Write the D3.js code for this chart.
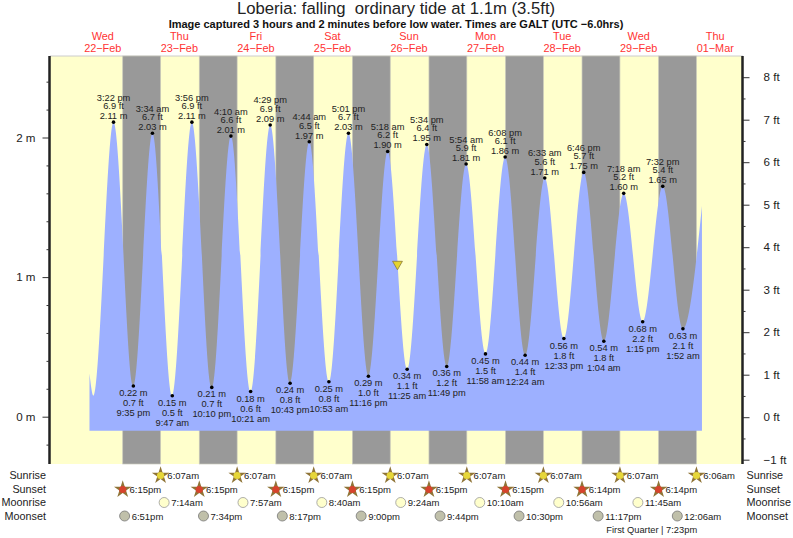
<!DOCTYPE html>
<html><head><meta charset="utf-8">
<script src="https://cdn.jsdelivr.net/npm/d3@7"></script>
<style>html,body{margin:0;background:#fff}svg{display:block}text{font-family:"Liberation Sans",Arial,sans-serif;fill:#222;white-space:pre}</style>
</head><body><svg id="c" width="793" height="538"></svg>
<script>
const titleText = "Loberia: falling  ordinary tide at 1.1m (3.5ft)";
const subtitleText = "Image captured 3 hours and 2 minutes before low water. Times are GALT (UTC \u22126.0hrs)";
const dayNames = ["Wed","Thu","Fri","Sat","Sun","Mon","Tue","Wed","Thu"];
const dayDates = ["22\u2212Feb","23\u2212Feb","24\u2212Feb","25\u2212Feb","26\u2212Feb","27\u2212Feb","28\u2212Feb","29\u2212Feb","01\u2212Mar"];
const dayNoons = ["02-22 12:00","02-23 12:00","02-24 12:00","02-25 12:00","02-26 12:00","02-27 12:00","02-28 12:00","02-29 12:00","03-01 12:00"];
const tideTimes = ["02-22 15:22","02-22 21:35","02-23 03:34","02-23 09:47","02-23 15:56","02-23 22:10","02-24 04:10","02-24 10:21","02-24 16:29","02-24 22:43","02-25 04:44","02-25 10:53","02-25 17:01","02-25 23:16","02-26 05:18","02-26 11:25","02-26 17:34","02-26 23:49","02-27 05:54","02-27 11:58","02-27 18:08","02-28 00:24","02-28 06:33","02-28 12:33","02-28 18:46","02-29 01:04","02-29 07:18","02-29 13:15","02-29 19:32","03-01 01:52"];
const tideMeters = [2.11,0.22,2.03,0.15,2.11,0.21,2.01,0.18,2.09,0.24,1.97,0.25,2.03,0.29,1.90,0.34,1.95,0.36,1.81,0.45,1.86,0.44,1.71,0.56,1.75,0.54,1.60,0.68,1.65,0.63];
const tideFeet = [6.9,0.7,6.7,0.5,6.9,0.7,6.6,0.6,6.9,0.8,6.5,0.8,6.7,1.0,6.2,1.1,6.4,1.2,5.9,1.5,6.1,1.4,5.6,1.8,5.7,1.8,5.2,2.2,5.4,2.1];
const leadTimes = ["02-22 07:50","02-22 09:05"];
const leadMeters = [0.31,0.15];
const tailTimes = ["03-01 07:50"];
const tailMeters = [1.51];
const sunriseTimes = ["02-23 06:07","02-24 06:07","02-25 06:07","02-26 06:07","02-27 06:07","02-28 06:07","02-29 06:07","03-01 06:06"];
const sunsetTimes = ["02-22 18:15","02-23 18:15","02-24 18:15","02-25 18:15","02-26 18:15","02-27 18:15","02-28 18:14","02-29 18:14"];
const moonriseTimes = ["02-23 07:14","02-24 07:57","02-25 08:40","02-26 09:24","02-27 10:10","02-28 10:56","02-29 11:45"];
const moonsetTimes = ["02-22 18:51","02-23 19:34","02-24 20:17","02-25 21:00","02-26 21:44","02-27 22:30","02-28 23:17","03-01 00:06"];
const meterMajor = [0,1,2];
const meterMinor = [-0.2,0.2,0.4,0.6,0.8,1.2,1.4,1.6,1.8,2.2,2.4];
const feetMajor = [-1,0,1,2,3,4,5,6,7,8];
const feetMinor = [-0.5,0.5,1.5,2.5,3.5,4.5,5.5,6.5,7.5];
const nowTime = "02-26 08:23";
const nowLevel = 1.1;
const phaseText = "First Quarter | 7:23pm";
const phaseTime = "02-29 19:23";

const T = d3.utcParse("%Y-%m-%d %H:%M");
const t = s => T("2012-" + s);
const pL = 50, pR = 743, pT = 56, pB = 464;
const x = d3.scaleUtc().domain([t("02-22 00:00"), t("03-01 00:00")]).range([64.5, 64.5 + 3.19 * 192]);
const y = d3.scaleLinear().domain([0, 2]).range([416.7, 137.5]);
const yFt = d3.scaleLinear().domain([0, 8]).range([417.2, 77.2]);
const svg = d3.select("#c");
const fmtT = d3.utcFormat("%-I:%M %p");
const fmtC = d3.utcFormat("%-I:%M%p");
const low = s => s.toLowerCase();

svg.append("text").attr("x", 396).attr("y", 14).attr("text-anchor", "middle").attr("font-size", 16.7).text(titleText);
svg.append("text").attr("x", 396).attr("y", 28).attr("text-anchor", "middle").attr("font-size", 11).attr("font-weight", "bold").style("fill", "#111").text(subtitleText);
const dg = svg.append("g").attr("text-anchor", "middle").attr("font-size", 10.9);
dg.selectAll(".n").data(dayNames).join("text").attr("class", "n").attr("x", (d, i) => x(t(dayNoons[i]))).attr("y", 40).style("fill", "#f33").text(d => d);
dg.selectAll(".d").data(dayDates).join("text").attr("class", "d").attr("x", (d, i) => x(t(dayNoons[i]))).attr("y", 52).style("fill", "#f33").text(d => d);

svg.append("rect").attr("x", pL).attr("y", pT).attr("width", pR - pL).attr("height", pB - pT).attr("fill", "#ffffcc");
svg.append("line").attr("x1", pL).attr("x2", pR).attr("y1", pT).attr("y2", pT).attr("stroke", "#ccc").attr("stroke-width", 1);
svg.selectAll(".night").data(sunsetTimes).join("rect").attr("class", "night")
  .attr("x", d => x(t(d))).attr("y", pT).attr("width", (d, i) => x(t(sunriseTimes[i])) - x(t(d)))
  .attr("height", pB - pT).attr("fill", "#999").attr("stroke", "#c9c9bb").attr("stroke-width", 0.7);

const pts = [...leadTimes.map((d, i) => [t(d), leadMeters[i]]),
  ...tideTimes.map((d, i) => [t(d), tideMeters[i]]),
  ...tailTimes.map((d, i) => [t(d), tailMeters[i]])];
const tideArea = d3.area().x(d => x(d[0])).y0(y(-0.1)).y1(d => y(d[1])).curve(d3.curveMonotoneX);
svg.append("path").datum(pts).attr("d", tideArea).attr("fill", "#9db0ff");

svg.selectAll(".dot").data(tideTimes).join("circle").attr("class", "dot")
  .attr("cx", d => x(t(d))).attr("cy", (d, i) => y(tideMeters[i])).attr("r", 1.8).attr("fill", "#000");

const lab = svg.append("g").attr("text-anchor", "middle").attr("font-size", 9.3);
tideTimes.forEach((d, i) => {
  const px = x(t(d)), py = y(tideMeters[i]), hi = i % 2 === 0;
  const off = hi ? [-3, -13, -21.5] : [10, 20, 30];
  const s = [tideMeters[i].toFixed(2) + " m", tideFeet[i].toFixed(1) + " ft", low(fmtT(t(d)))];
  s.forEach((v, k) => lab.append("text").attr("x", px).attr("y", py + off[k]).text(v));
});

const tri = d3.symbol().type(d3.symbolTriangle).size(42);
svg.append("path").attr("d", tri()).attr("transform", `translate(${x(t(nowTime))},${y(nowLevel) + 1}) rotate(180)`)
  .attr("fill", "#e5d42e").attr("stroke", "#8a7a3a").attr("stroke-width", 0.8);

const aL = d3.axisLeft(y).tickValues(meterMajor).tickSize(7).tickPadding(7).tickFormat(d => d + " m");
const gL = svg.append("g").attr("transform", `translate(${pL - 0.5},0)`).call(aL);
const aLm = d3.axisLeft(y).tickValues(meterMinor).tickSize(3).tickFormat("");
const gLm = svg.append("g").attr("transform", `translate(${pL - 0.5},0)`).call(aLm);
const aR = d3.axisRight(yFt).tickValues(feetMajor).tickSize(7).tickPadding(14).tickFormat(d => (d < 0 ? "\u2212" + (-d) : d) + " ft");
const gR = svg.append("g").attr("transform", `translate(${pR - 0.5},0)`).call(aR);
const aRm = d3.axisRight(yFt).tickValues(feetMinor).tickSize(3).tickFormat("");
const gRm = svg.append("g").attr("transform", `translate(${pR - 0.5},0)`).call(aRm);
[gL, gLm, gR, gRm].forEach(g => {
  g.selectAll(".domain").attr("d", `M0,${pT}V${pB}`).attr("stroke", "#222").attr("stroke-width", 2);
  g.selectAll(".tick line").attr("stroke", "#333");
  g.selectAll(".tick text").attr("font-size", 11.6).attr("font-family", '"Liberation Sans",Arial,sans-serif').style("fill", "#222");
});

const rows = [["Sunrise", 475], ["Sunset", 489], ["Moonrise", 502.3], ["Moonset", 515.7]];
const rg = svg.append("g").attr("font-size", 10.8);
rows.forEach(r => {
  rg.append("text").attr("x", 46).attr("y", r[1] + 4).attr("text-anchor", "end").text(r[0]);
  rg.append("text").attr("x", 746.5).attr("y", r[1] + 4).text(r[0]);
});
const star = d3.symbol().type(d3.symbolStar).size(95);
function stars(data, cy, fill) {
  svg.append("g").selectAll("path").data(data).join("path").attr("d", star())
    .attr("transform", d => `translate(${x(t(d))},${cy + 0.5})`).attr("fill", "#8f7436");
  svg.append("g").selectAll("circle").data(data).join("circle")
    .attr("cx", d => x(t(d))).attr("cy", cy + 0.5).attr("r", 3.6).attr("fill", fill);
  svg.append("g").attr("font-size", 9.5).selectAll("text").data(data).join("text")
    .attr("x", d => x(t(d)) + 6.8).attr("y", cy + 3.5).text(d => low(fmtC(t(d))));
}
function moons(data, cy, fill, stroke) {
  svg.append("g").selectAll("circle").data(data).join("circle").attr("cx", d => x(t(d))).attr("cy", cy).attr("r", 5)
    .attr("fill", fill).attr("stroke", stroke).attr("stroke-width", 0.8);
  svg.append("g").attr("font-size", 9.5).selectAll("text").data(data).join("text")
    .attr("x", d => x(t(d)) + 7).attr("y", cy + 3.5).text(d => low(fmtC(t(d))));
}
stars(sunriseTimes, 475, "#e6d63a");
stars(sunsetTimes, 489, "#d6432c");
moons(moonriseTimes, 502.5, "#ffffcc", "#999");
moons(moonsetTimes, 516, "#c0c0aa", "#777");
svg.append("text").attr("x", x(t(phaseTime)) - 10.5).attr("y", 533).attr("text-anchor", "middle").attr("font-size", 9.3).text(phaseText);
</script></body></html>
